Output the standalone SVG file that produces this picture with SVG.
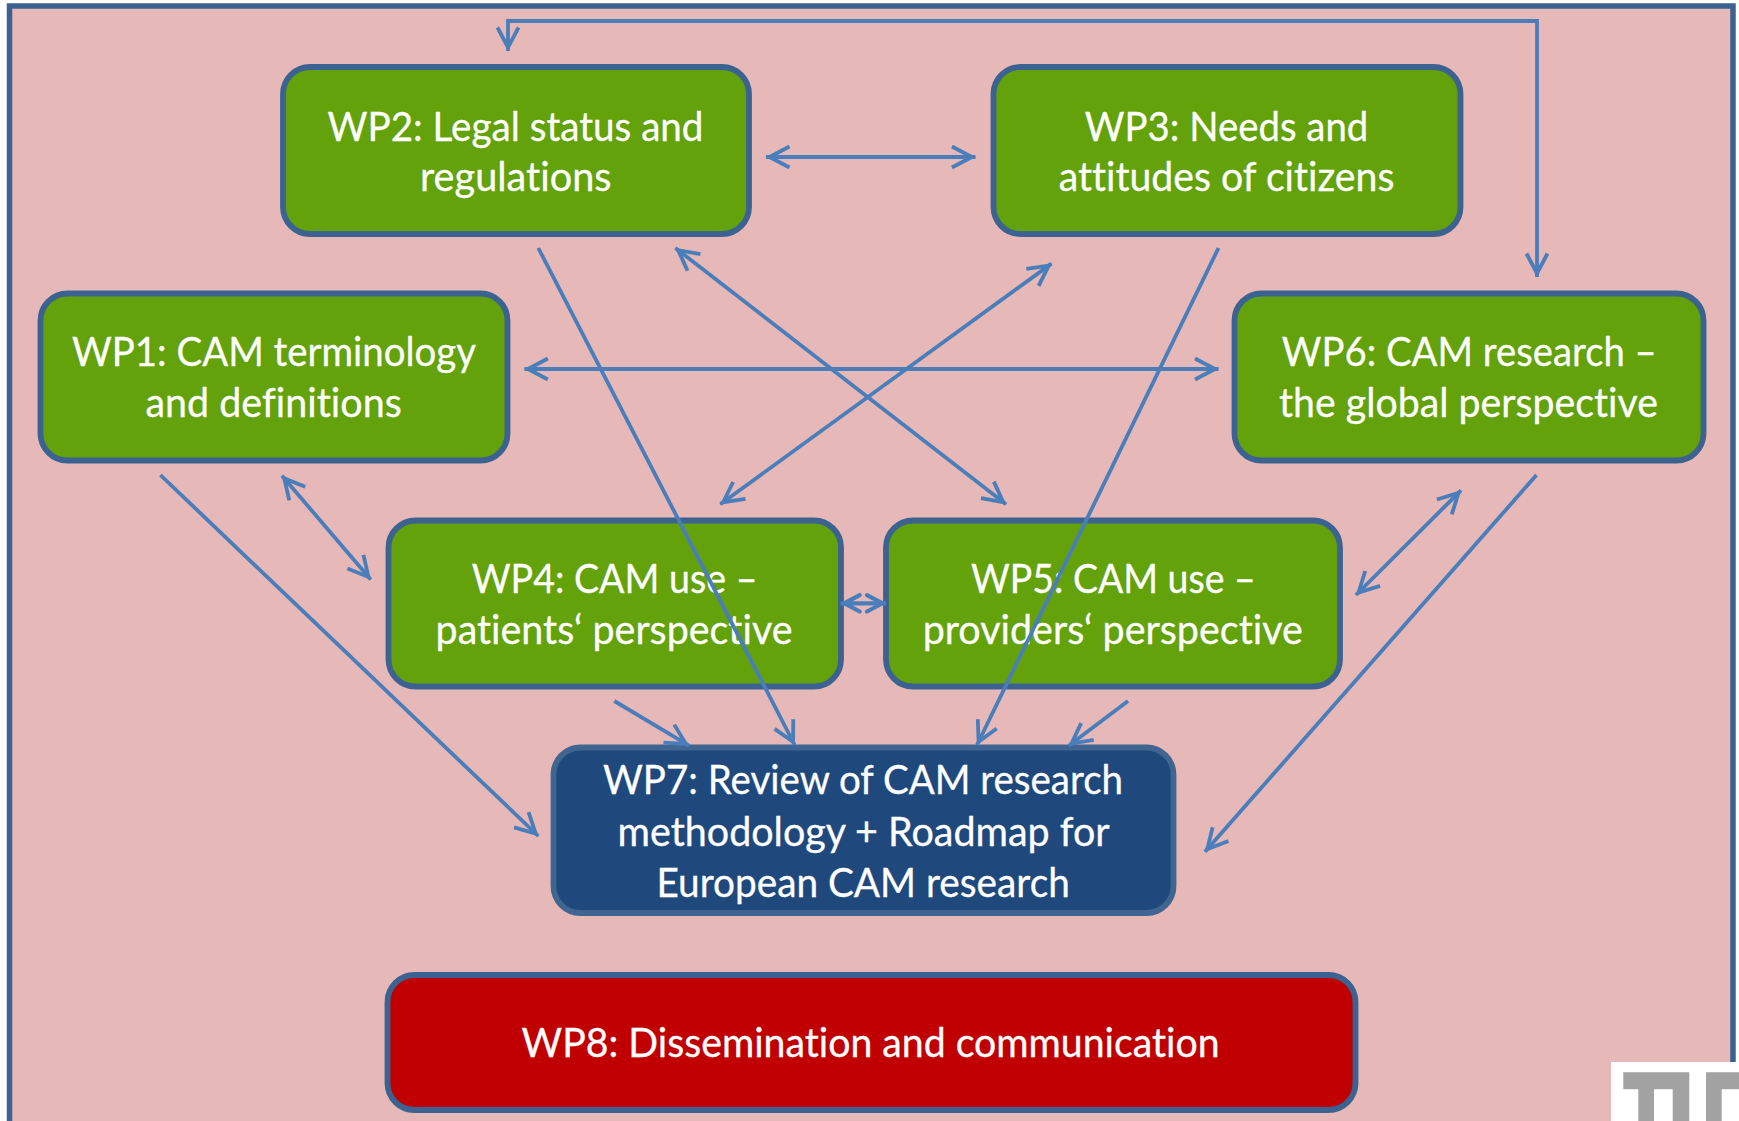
<svg xmlns="http://www.w3.org/2000/svg" width="1739" height="1121" viewBox="0 0 1739 1121">
<style>
.node{stroke:#3c6291;stroke-width:5.8}
.green{fill:#63a20a}
.blue{fill:#1f497d;stroke:#3f6590}
.red{fill:#c00000}
text{font-family:"Lato","Open Sans","Liberation Sans",sans-serif;font-size:41px;fill:#fff;font-variant-ligatures:none;stroke:#fff;stroke-width:.3}
.c{fill:none;stroke:#4a7ebb;stroke-width:3.8;marker-end:url(#h)}
.b{marker-start:url(#h)}
.s{marker-start:url(#k);marker-end:url(#k);stroke-width:4.2}
</style>
<defs>
<marker id="h" markerUnits="userSpaceOnUse" markerWidth="34" markerHeight="30" refX="27.5" refY="15" orient="auto-start-reverse" viewBox="0 0 34 30">
<path d="M4,4.5 L24,15 L4,25.5" fill="none" stroke="#4a7ebb" stroke-width="3.8"/>
</marker>
<marker id="k" markerUnits="userSpaceOnUse" markerWidth="34" markerHeight="30" refX="27.5" refY="15" orient="auto-start-reverse" viewBox="0 0 34 30">
<path d="M8.5,6.8 L24,15 L8.5,23.2" fill="none" stroke="#4a7ebb" stroke-width="4.2" stroke-linecap="round"/>
</marker>
</defs>
<rect width="1739" height="1121" fill="#fff"/>
<rect id="frame" x="9.5" y="6" width="1723.5" height="1200" fill="#e6b8b7" stroke="#3c6291" stroke-width="5.5"/>
<g id="WP2"><rect class="node green" x="283" y="67" width="466" height="167" rx="27"/>
<text x="327.5" y="140.5" textLength="376" lengthAdjust="spacingAndGlyphs">WP2: Legal status and</text>
<text x="420" y="191.2" textLength="191.5" lengthAdjust="spacingAndGlyphs">regulations</text></g>
<g id="WP3"><rect class="node green" x="993.5" y="67" width="467" height="167" rx="27"/>
<text x="1084.8" y="140.5" textLength="283.5" lengthAdjust="spacingAndGlyphs">WP3: Needs and</text>
<text x="1058.7" y="191.2" textLength="335.7" lengthAdjust="spacingAndGlyphs">attitudes of citizens</text></g>
<g id="WP1"><rect class="node green" x="40.5" y="293.5" width="467" height="167" rx="27"/>
<text x="72" y="366" textLength="404" lengthAdjust="spacingAndGlyphs">WP1: CAM terminology</text>
<text x="145.4" y="417.4" textLength="256.4" lengthAdjust="spacingAndGlyphs">and definitions</text></g>
<g id="WP6"><rect class="node green" x="1234.5" y="293.5" width="469" height="167" rx="27"/>
<text x="1281.8" y="366" textLength="375" lengthAdjust="spacingAndGlyphs">WP6: CAM research –</text>
<text x="1279" y="417.4" textLength="379" lengthAdjust="spacingAndGlyphs">the global perspective</text></g>
<g id="WP4"><rect class="node green" x="388.5" y="520.5" width="452.5" height="166" rx="27"/>
<text x="471.7" y="593.4" textLength="285.8" lengthAdjust="spacingAndGlyphs">WP4: CAM use –</text>
<text x="435.6" y="644.4" textLength="356.9" lengthAdjust="spacingAndGlyphs">patients‘ perspective</text></g>
<g id="WP5"><rect class="node green" x="886" y="520.5" width="454" height="166" rx="27"/>
<text x="971" y="593.4" textLength="284.7" lengthAdjust="spacingAndGlyphs">WP5: CAM use –</text>
<text x="922.7" y="644.4" textLength="380.2" lengthAdjust="spacingAndGlyphs">providers‘ perspective</text></g>
<g id="WP7"><rect class="node blue" x="553.5" y="747.5" width="620" height="165.5" rx="27"/>
<text x="603" y="794" textLength="520" lengthAdjust="spacingAndGlyphs">WP7: Review of CAM research</text>
<text x="617.6" y="846.3" textLength="492" lengthAdjust="spacingAndGlyphs">methodology + Roadmap for</text>
<text x="656.5" y="897" textLength="413.3" lengthAdjust="spacingAndGlyphs">European CAM research</text></g>
<g id="WP8"><rect class="node red" x="387.5" y="975" width="968" height="135" rx="27"/>
<text x="521.6" y="1057" textLength="698" lengthAdjust="spacingAndGlyphs">WP8: Dissemination and communication</text></g>
<g id="connectors">
<path class="c b" d="M508,51 V21 H1537 V277"/>
<path class="c b" d="M766,157 H975.4"/>
<path class="c b" d="M524.4,369 H1218.5"/>
<path class="c" d="M538.3,248 L794.7,745"/>
<path class="c" d="M1218.5,248 L977,745"/>
<path class="c b" d="M675.4,248 L1006,504.3"/>
<path class="c b" d="M1051.5,263.6 L720.3,504.3"/>
<path class="c b" d="M282,475.7 L370.7,579.6"/>
<path class="c" d="M160.4,475 L538.3,836"/>
<path class="c s" d="M840.7,603.3 H886"/>
<path class="c" d="M614.3,701 L689,745.7"/>
<path class="c" d="M1128,701 L1068.7,745.7"/>
<path class="c b" d="M1461,490.4 L1356,595"/>
<path class="c" d="M1536.5,475 L1205,851.8"/>
</g>
<g id="logo">
<rect x="1611" y="1062" width="128" height="59" fill="#fff"/>
<path fill="#a3a3a3" d="M1623.3,1072.3 H1689.3 V1121 H1672.7 V1089.3 H1654 V1121 H1638.3 V1089.3 H1623.3 Z M1706,1072.3 H1739 V1089.3 H1721.7 V1121 H1706 Z"/>
</g>
</svg>
